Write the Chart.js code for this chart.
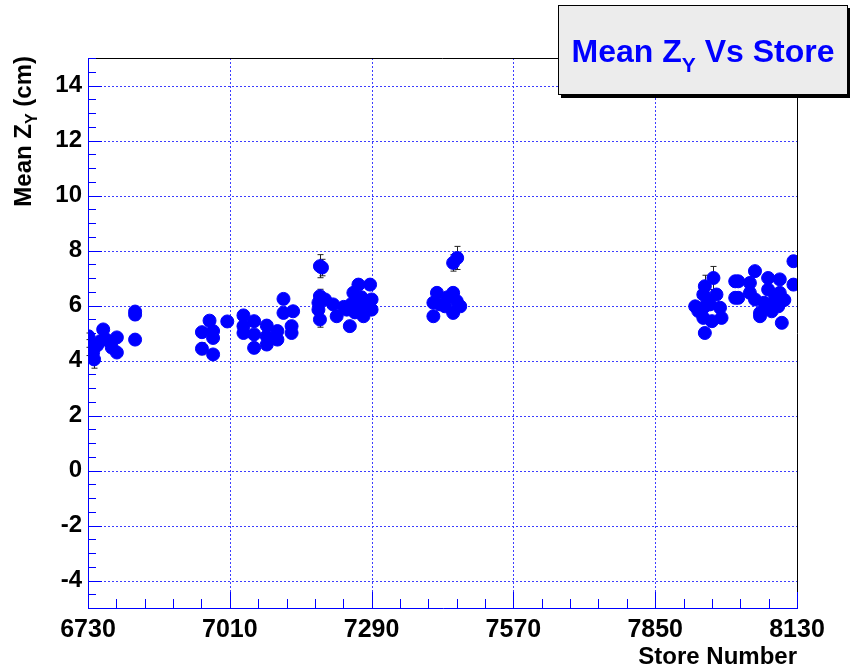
<!DOCTYPE html>
<html>
<head>
<meta charset="utf-8">
<title>Mean Z_Y Vs Store</title>
<script src="https://cdn.jsdelivr.net/npm/chart.js@4/dist/chart.umd.min.js"></script>
<style>
  html, body { margin: 0; padding: 0; background: #ffffff; }
  #wrap { width: 850px; height: 667px; position: relative; }
</style>
</head>
<body>
<div id="wrap"><canvas id="c" width="850" height="667"></canvas></div>
<script>
// Store numbers, mean Z_Y per store (cm) and its uncertainty
const stores = [
  6731, 6732, 6740, 6742, 6748, 6735, 6754, 6760, 6766, 6777, 6787, 6787, 6823, 6823, 6823,
  6955, 6955, 6970, 6977, 6977, 6977, 7005,
  7037, 7037, 7037, 7058, 7058, 7058, 7083, 7083, 7083, 7104, 7104, 7116, 7116, 7135, 7132, 7132,
  7188, 7192, 7188, 7185, 7185, 7188, 7198, 7214, 7221, 7241, 7247, 7254, 7264, 7267, 7274, 7287,
  7290, 7290, 7257, 7235, 7270, 7280, 7260, 7250,
  7451, 7459, 7419, 7412, 7412, 7425, 7451, 7458, 7465, 7451, 7435, 7440,
  7965, 7948, 7945, 7929, 7945, 7945, 7948, 7971, 7978, 7981, 7962, 8008, 8008, 7958, 7935, 7955,
  8014, 8014, 8047, 8037, 8037, 8047, 8057, 8057, 8073, 8073, 8073, 8080, 8096, 8096, 8093, 8100,
  8123, 8123, 8087, 8065, 8105
];
const meanZ = [
  4.88, 4.33, 4.29, 4.04, 4.55, 4.60, 4.70, 5.13, 4.76, 4.47, 4.84, 4.29, 5.67, 5.78, 4.76,
  5.03, 4.43, 5.45, 5.07, 4.82, 4.22, 5.42,
  5.64, 5.25, 5.00, 5.43, 4.95, 4.46, 5.27, 4.88, 4.58, 5.07, 4.76, 6.24, 5.73, 5.79, 5.25, 5.00,
  7.43, 7.38, 6.34, 6.10, 5.85, 5.49, 6.22, 6.04, 5.61, 5.85, 5.25, 6.46, 6.76, 5.97, 5.61, 6.76,
  6.22, 5.85, 5.75, 5.95, 6.30, 6.10, 6.15, 6.05,
  7.55, 7.73, 6.46, 6.10, 5.61, 6.04, 6.46, 6.16, 5.97, 5.73, 5.97, 6.30,
  7.00, 6.70, 6.40, 5.97, 5.92, 5.55, 5.00, 6.40, 5.92, 5.55, 5.43, 6.88, 6.28, 6.04, 5.80, 6.20,
  6.88, 6.28, 7.25, 6.82, 6.46, 6.22, 5.73, 5.61, 7.00, 6.58, 6.04, 5.79, 6.95, 6.46, 5.97, 5.37,
  7.61, 6.76, 6.34, 6.10, 6.20
];
const errZ = [
  0.12, 0.15, 0.12, 0.32, 0.12, 0.12, 0.12, 0.12, 0.12, 0.12, 0.12, 0.12, 0.20, 0.12, 0.12,
  0.15, 0.22, 0.18, 0.12, 0.12, 0.12, 0.12,
  0.12, 0.12, 0.12, 0.12, 0.12, 0.12, 0.12, 0.12, 0.12, 0.12, 0.12, 0.12, 0.12, 0.12, 0.12, 0.12,
  0.42, 0.30, 0.25, 0.12, 0.12, 0.28, 0.18, 0.12, 0.12, 0.12, 0.12, 0.12, 0.12, 0.12, 0.12, 0.12,
  0.12, 0.12, 0.12, 0.12, 0.12, 0.12, 0.12, 0.12,
  0.30, 0.42, 0.12, 0.12, 0.12, 0.12, 0.12, 0.12, 0.12, 0.12, 0.12, 0.12,
  0.42, 0.40, 0.12, 0.12, 0.12, 0.12, 0.12, 0.12, 0.12, 0.12, 0.12, 0.12, 0.12, 0.12, 0.12, 0.12,
  0.12, 0.12, 0.12, 0.12, 0.12, 0.12, 0.12, 0.12, 0.12, 0.12, 0.12, 0.12, 0.15, 0.12, 0.12, 0.12,
  0.18, 0.15, 0.12, 0.12, 0.12
];
const xTicks = [6730, 7010, 7290, 7570, 7850, 8130];
const yTicks = [-4, -2, 0, 2, 4, 6, 8, 10, 12, 14];

const BLUE = '#0000ff';
const GRID = '#3c3cff';
const FONT = '"Liberation Sans", Arial, Helvetica, sans-serif';

// dotted grid at the labelled ticks, then error bars under the markers
const gridAndErrors = {
  id: 'gridAndErrors',
  beforeDatasetsDraw(chart) {
    const { ctx, chartArea: a, scales: { x, y } } = chart;
    ctx.save();
    ctx.strokeStyle = GRID;
    ctx.lineWidth = 1;
    ctx.setLineDash([2, 2]);
    ctx.beginPath();
    for (const v of yTicks) {
      const py = Math.round(y.getPixelForValue(v)) + 0.5;
      ctx.moveTo(a.left, py); ctx.lineTo(a.right, py);
    }
    for (const v of xTicks) {
      const px = Math.round(x.getPixelForValue(v)) + 0.5;
      ctx.moveTo(px, a.bottom); ctx.lineTo(px, a.top);
    }
    ctx.stroke();
    ctx.setLineDash([]);

    ctx.strokeStyle = '#222222';
    for (let i = 0; i < stores.length; i++) {
      const px = Math.round(x.getPixelForValue(stores[i])) + 0.5;
      const yt = y.getPixelForValue(meanZ[i] + errZ[i]);
      const yb = y.getPixelForValue(meanZ[i] - errZ[i]);
      ctx.beginPath();
      ctx.moveTo(px, yt); ctx.lineTo(px, yb);
      ctx.moveTo(px - 3, yt); ctx.lineTo(px + 3, yt);
      ctx.moveTo(px - 3, yb); ctx.lineTo(px + 3, yb);
      ctx.stroke();
    }
    ctx.restore();
  }
};

// axis lines, tick marks, frame, axis titles and the title box
const decorations = {
  id: 'decorations',
  afterDraw(chart) {
    const { ctx, chartArea: a, scales: { x, y } } = chart;
    ctx.save();

    // frame top and right
    ctx.strokeStyle = '#000000';
    ctx.lineWidth = 1;
    ctx.beginPath();
    ctx.moveTo(a.left, a.top + 0.5); ctx.lineTo(a.right + 0.5, a.top + 0.5);
    ctx.lineTo(a.right + 0.5, a.bottom);
    ctx.stroke();

    // axis lines and tick marks
    ctx.strokeStyle = BLUE;
    ctx.beginPath();
    ctx.moveTo(a.left + 0.5, a.top); ctx.lineTo(a.left + 0.5, a.bottom + 0.5);
    ctx.lineTo(a.right + 1, a.bottom + 0.5);
    for (let v = -5; v <= 15.001; v += 0.5) {
      const py = Math.round(y.getPixelForValue(v)) + 0.5;
      const major = Math.abs(v % 2) < 1e-6;
      const len = major ? 14 : 8;
      ctx.moveTo(a.left, py); ctx.lineTo(a.left + len, py);
    }
    for (let v = 6730; v <= 8130; v += 56) {
      const px = Math.round(x.getPixelForValue(v)) + 0.5;
      const major = (v - 6730) % 280 === 0;
      const len = major ? 16 : 9;
      ctx.moveTo(px, a.bottom); ctx.lineTo(px, a.bottom - len);
    }
    ctx.stroke();

    ctx.fillStyle = '#000000';
    // x axis title
    ctx.font = 'bold 24px ' + FONT;
    ctx.textAlign = 'right';
    ctx.textBaseline = 'alphabetic';
    ctx.fillText('Store Number', a.right, 664);

    // y axis title, rotated, ending at the top of the axis
    ctx.save();
    ctx.translate(31, a.top - 2);
    ctx.rotate(-Math.PI / 2);
    const partA = 'Mean Z', partSub = 'Y', partB = ' (cm)';
    ctx.font = 'bold 24px ' + FONT;
    const wA = ctx.measureText(partA).width, wB = ctx.measureText(partB).width;
    ctx.font = 'bold 16px ' + FONT;
    const wS = ctx.measureText(partSub).width;
    let cx = -(wA + wS + wB);
    ctx.textAlign = 'left';
    ctx.font = 'bold 24px ' + FONT;
    ctx.fillText(partA, cx, 0); cx += wA;
    ctx.font = 'bold 16px ' + FONT;
    ctx.fillText(partSub, cx, 6); cx += wS;
    ctx.font = 'bold 24px ' + FONT;
    ctx.fillText(partB, cx, 0);
    ctx.restore();

    // title box with shadow
    const bx = 558, by = 5, bw = 290, bh = 90;
    ctx.fillStyle = '#000000';
    ctx.fillRect(bx + 3, by + 3, bw, bh);
    ctx.fillStyle = '#ececec';
    ctx.fillRect(bx, by, bw, bh);
    ctx.strokeStyle = '#000000';
    ctx.lineWidth = 1;
    ctx.strokeRect(bx + 0.5, by + 0.5, bw - 1, bh - 1);

    ctx.fillStyle = BLUE;
    const tA = 'Mean Z', tSub = 'Y', tB = ' Vs Store';
    ctx.font = 'bold 32px ' + FONT;
    const twA = ctx.measureText(tA).width, twB = ctx.measureText(tB).width;
    ctx.font = 'bold 21px ' + FONT;
    const twS = ctx.measureText(tSub).width;
    let tx = bx + bw / 2 - (twA + twS + twB) / 2;
    ctx.textAlign = 'left';
    ctx.font = 'bold 32px ' + FONT;
    ctx.fillText(tA, tx, 62); tx += twA;
    ctx.font = 'bold 21px ' + FONT;
    ctx.fillText(tSub, tx, 72); tx += twS;
    ctx.font = 'bold 32px ' + FONT;
    ctx.fillText(tB, tx, 62);

    ctx.restore();
  }
};

new Chart(document.getElementById('c'), {
  type: 'scatter',
  data: {
    datasets: [{
      data: stores.map((s, i) => ({ x: s, y: meanZ[i] })),
      backgroundColor: BLUE,
      borderColor: BLUE,
      pointRadius: 6.5,
      pointBorderWidth: 1,
      pointHoverRadius: 6.5
    }]
  },
  options: {
    responsive: false,
    animation: false,
    events: [],
    layout: { padding: { top: 58, right: 53, left: 0, bottom: 0 } },
    plugins: { legend: { display: false }, tooltip: { enabled: false } },
    scales: {
      x: {
        type: 'linear',
        min: 6730, max: 8130,
        afterBuildTicks: s => { s.ticks = xTicks.map(v => ({ value: v })); },
        afterFit: s => { s.height = 59; },
        grid: { display: false, drawTicks: false },
        border: { display: false },
        ticks: {
          callback: v => String(v),
          color: '#000000',
          font: { family: FONT, size: 25, weight: 'bold' },
          padding: 7,
          maxRotation: 0,
          autoSkip: false
        }
      },
      y: {
        min: -5, max: 15,
        afterBuildTicks: s => { s.ticks = yTicks.map(v => ({ value: v })); },
        afterFit: s => { s.width = 88; },
        grid: { display: false, drawTicks: false },
        border: { display: false },
        ticks: {
          callback: v => String(v),
          color: '#000000',
          font: { family: FONT, size: 24, weight: 'bold' },
          padding: 6,
          autoSkip: false
        }
      }
    }
  },
  plugins: [gridAndErrors, decorations]
});
</script>
</body>
</html>
